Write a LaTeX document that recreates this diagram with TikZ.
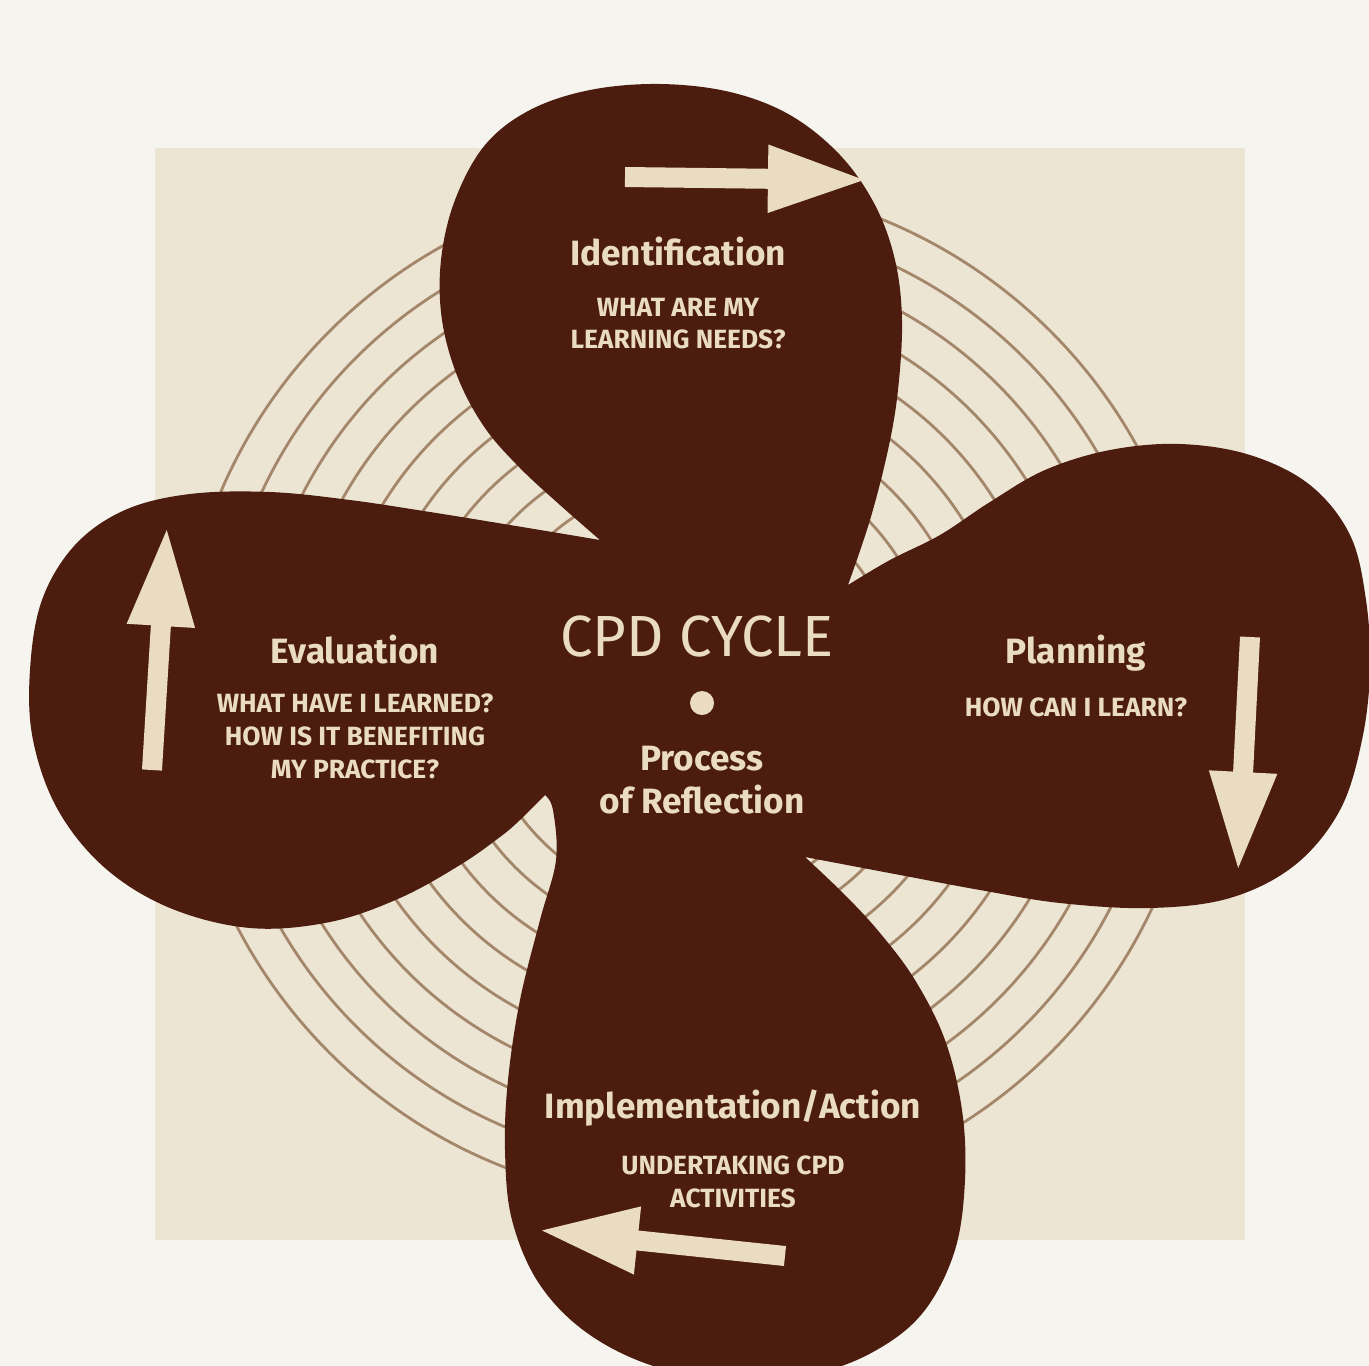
\documentclass[tikz,border=0pt]{standalone}
\usepackage{fontspec}
\setmainfont{Fira Sans}
\usepackage{xcolor}
\usetikzlibrary{arrows.meta,positioning}
\definecolor{paper}{HTML}{F6F4EE}
\definecolor{sand}{HTML}{EDE5D4}
\definecolor{ringline}{HTML}{A4876A}
\definecolor{bark}{HTML}{4C1C0F}
\definecolor{cream}{HTML}{EADCC0}
\tikzset{
  petal/.style={fill=bark},
  ring/.style={draw=ringline, line width=0.8pt},
  head/.style={
    text=cream,
    inner sep=0pt,
    font=\bfseries\fontsize{10}{12}\selectfont
  },
  question/.style={
    text=cream,
    inner sep=0pt,
    align=center,
    font=\bfseries\fontsize{7.5}{9.3}\selectfont
  },
  cycletitle/.style={
    text=cream,
    inner sep=0pt,
    font=\fontsize{16.5}{18}\selectfont
  },
  hub/.style={circle, fill=cream, minimum size=0.24cm, inner sep=0pt},
  flow/.style={-{Triangle[length=1cm,width=0.62cm]}, line width=0.2cm, draw=cream}
}

\begin{document}
\begin{tikzpicture}[x=0.01cm, y=-0.01cm]

\useasboundingbox (0,0) rectangle (1369,1366);
\clip (0,0) rectangle (1369,1366);
\fill[paper] (0,0) rectangle (1369,1366);
\fill[sand] (155,148) rectangle (1245,1240);

% rings behind the petals
\foreach \r in {210,247.5,...,510}
  \draw[ring] (690,692) circle[radius=\r];

% the four petals as one outline
\fill[petal]
  plot[smooth, tension=0.6] coordinates {(600,540) (560,505) (520,468) (485,428)
    (458,378) (442,320) (441,260) (455,200) (485,145) (530,110) (590,90) (660,84)
    (730,92) (790,115) (840,155) (875,205) (895,260) (902,320) (898,390) (888,450)
    (870,520) (848,585)}
  -- plot[smooth, tension=0.6] coordinates {(848,585) (890,560) (940,535) (990,502)
    (1045,470) (1110,450) (1180,444) (1250,455) (1310,485) (1350,535) (1366,600)
    (1370,670) (1362,740) (1340,810) (1295,865) (1230,898) (1150,908) (1060,903)
    (980,890) (900,875) (805,857)}
  -- plot[smooth, tension=0.6] coordinates {(805,857) (845,895) (880,933) (915,980)
    (945,1040) (962,1110) (965,1180) (955,1250) (925,1310) (880,1348) (820,1372)
    (740,1378) (660,1368) (590,1335) (540,1285) (512,1220) (505,1150) (508,1080)
    (520,1000) (540,920) (556,860) (553,810) (545,795)}
  -- plot[smooth, tension=0.6] coordinates {(545,795) (520,820) (500,837) (460,865)
    (400,898) (330,922) (250,928) (170,908) (105,868) (58,810) (33,740) (30,670)
    (42,600) (75,545) (125,510) (190,494) (270,492) (350,500) (430,512) (510,525)
    (600,540)}
  -- cycle;

% direction arrows
\coordinate (topA) at (625,177);
\coordinate (topB) at (868,180);
\coordinate (rightA) at (1250,637);
\coordinate (rightB) at (1238,872);
\coordinate (botA) at (785,1256);
\coordinate (botB) at (538,1230);
\coordinate (leftA) at (152,770);
\coordinate (leftB) at (167,526);
\draw[flow] (topA) -- (topB);
\draw[flow] (rightA) -- (rightB);
\draw[flow] (botA) -- (botB);
\draw[flow] (leftA) -- (leftB);

% labels
\node[head] (ident) at (678,252) {Identification};
\node[question, below=0.3cm of ident] (identq) {WHAT ARE MY\\LEARNING NEEDS?};

\node[head] (plan) at (1076,653) {Planning};
\node[question, below=0.25cm of plan] (planq) {HOW CAN I LEARN?};

\node[head] (impl) at (733,1108) {Implementation/Action};
\node[question, below=0.28cm of impl] (implq) {UNDERTAKING CPD\\ACTIVITIES};

\node[head] (evalu) at (355,650) {Evaluation};
\node[question, below=0.28cm of evalu] (evalq) {WHAT HAVE I LEARNED?\\HOW IS IT BENEFITING\\MY PRACTICE?};

\node[cycletitle] (cpd) at (697,636) {CPD CYCLE};
\node[hub] (dot) at (702,703) {};
\node[head, align=center, below=0.3cm of dot] (refl) {Process\\of Reflection};

\end{tikzpicture}
\end{document}
